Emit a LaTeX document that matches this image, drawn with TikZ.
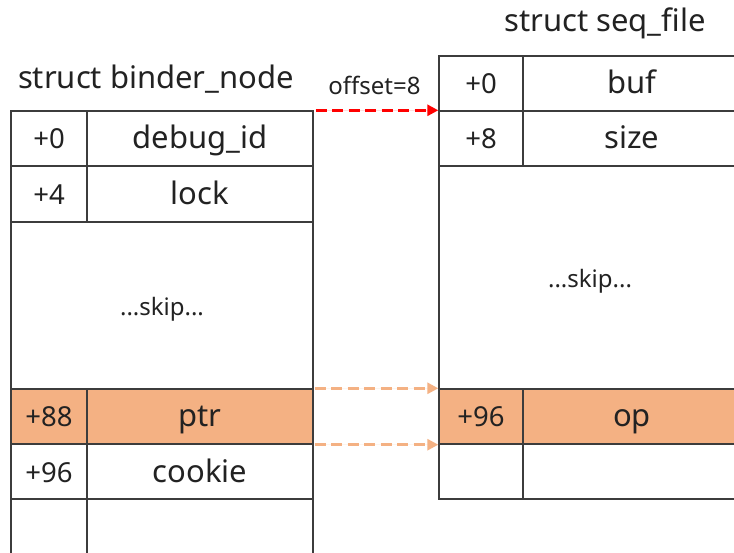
\documentclass[tikz,border=0pt]{standalone}
\usepackage{fontspec}
\setmainfont{Noto Sans}
\usetikzlibrary{arrows.meta}
\definecolor{linec}{HTML}{3C3C3C}
\definecolor{txt}{HTML}{222222}
\definecolor{hl}{HTML}{F4B183}
\definecolor{arrred}{HTML}{FF0000}
\tikzset{
  cell/.style={draw=linec, line width=1.4pt, inner sep=0pt, text height=25pt, text depth=4pt, text=txt, align=center},
  big/.style={font=\fontsize{31}{36}\selectfont},
  offs/.style={font=\fontsize{27.5}{32}\selectfont},
  small/.style={font=\fontsize{24}{28}\selectfont},
  hot/.style={fill=hl},
  ptrarrow/.style={-{Triangle[length=11pt,width=11pt]}, line width=3.4pt, dash pattern=on 11pt off 5.5pt},
  title/.style={anchor=base, text=txt, font=\fontsize{31}{36}\selectfont, inner sep=0pt}
}
\begin{document}
\begin{tikzpicture}[x=1pt,y=-1pt]
\clip (0,0) rectangle (734,553);
\fill[white] (0,0) rectangle (734,553);

% titles
\node[title] (ltitle) at (156,89) {struct binder\_node};
\node[title] (rtitle) at (605,32) {struct seq\_file};

% left table: struct binder_node
\node[cell,offs,minimum width=76pt,minimum height=55pt] (lo0) at (49,138.5) {+0};
\node[cell,big,minimum width=226pt,minimum height=55pt] (lv0) at (200,138.5) {debug\_id};
\node[cell,offs,minimum width=76pt,minimum height=56pt] (lo1) at (49,194) {+4};
\node[cell,big,minimum width=226pt,minimum height=56pt] (lv1) at (200,194) {lock};
\node[cell,small,minimum width=302pt,minimum height=167pt] (lskip) at (162,305.5) {...skip...};
\node[cell,offs,hot,minimum width=76pt,minimum height=55pt] (lo2) at (49,416.5) {+88};
\node[cell,big,hot,minimum width=226pt,minimum height=55pt] (lv2) at (200,416.5) {ptr};
\node[cell,offs,minimum width=76pt,minimum height=55pt] (lo3) at (49,471.5) {+96};
\node[cell,big,minimum width=226pt,minimum height=55pt] (lv3) at (200,471.5) {cookie};
\node[cell,offs,minimum width=76pt,minimum height=61pt] (lo4) at (49,529.5) {};
\node[cell,big,minimum width=226pt,minimum height=61pt] (lv4) at (200,529.5) {};

% right table: struct seq_file
\node[cell,offs,minimum width=84pt,minimum height=55pt] (ro0) at (481,83.5) {+0};
\node[cell,big,minimum width=218pt,minimum height=55pt] (rv0) at (632,83.5) {buf};
\node[cell,offs,minimum width=84pt,minimum height=55pt] (ro1) at (481,138.5) {+8};
\node[cell,big,minimum width=218pt,minimum height=55pt] (rv1) at (632,138.5) {size};
\node[cell,small,minimum width=302pt,minimum height=223pt] (rskip) at (590,277.5) {...skip...};
\node[cell,offs,hot,minimum width=84pt,minimum height=55pt] (ro2) at (481,416.5) {+96};
\node[cell,big,hot,minimum width=218pt,minimum height=55pt] (rv2) at (632,416.5) {op};
\node[cell,offs,minimum width=84pt,minimum height=55pt] (ro3) at (481,471.5) {};
\node[cell,big,minimum width=218pt,minimum height=55pt] (rv3) at (632,471.5) {};

% offset label
\node[anchor=base, small, text=txt, inner sep=0pt] (offlbl) at (374.5,95) {offset=8};

% arrows
\draw[ptrarrow, draw=arrred, fill=arrred, shorten <=2pt] (lv0.north east) -- (ro1.north west);
\draw[ptrarrow, draw=hl, fill=hl, shorten <=1pt] (lv2.north east) -- (ro2.north west);
\draw[ptrarrow, draw=hl, fill=hl, shorten <=1pt] (lv2.south east) -- (ro2.south west);
\end{tikzpicture}
\end{document}
